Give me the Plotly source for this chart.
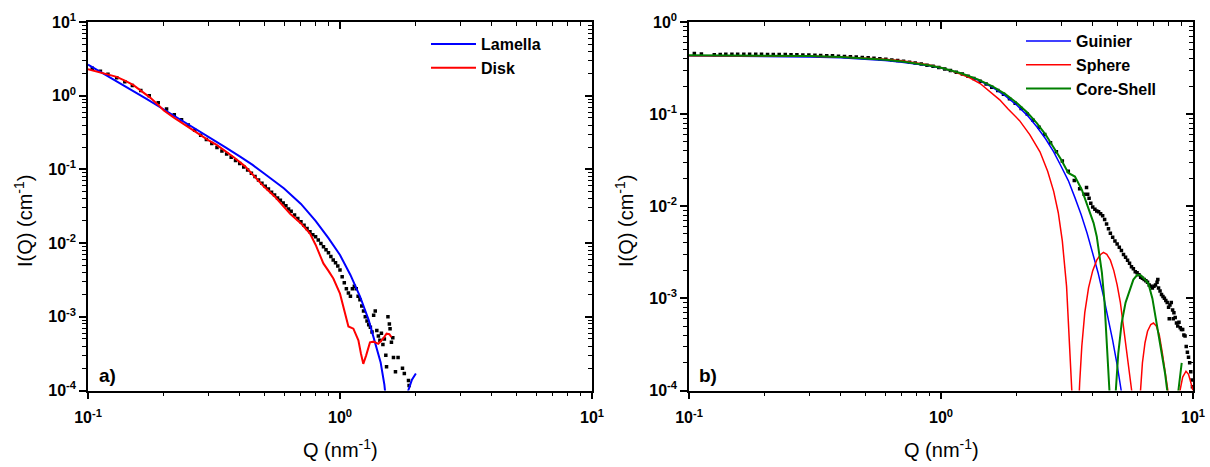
import plotly.graph_objects as go

# ---------------- Panel a) data ----------------
qa_data = [0.104, 0.112, 0.12, 0.13, 0.14, 0.15, 0.162, 0.175, 0.19, 0.205, 0.22, 0.235, 0.25, 0.265,
           0.28, 0.295, 0.31, 0.325, 0.34, 0.355, 0.37, 0.385, 0.40, 0.415, 0.43, 0.445, 0.46, 0.475,
           0.49, 0.505, 0.52, 0.535, 0.55, 0.565, 0.58, 0.595, 0.61, 0.625, 0.64, 0.66, 0.68, 0.70,
           0.72, 0.74, 0.76, 0.78, 0.80, 0.82, 0.84, 0.86, 0.88, 0.90, 0.92, 0.94, 0.96, 0.98, 1.00,
           1.02, 1.04, 1.06, 1.08, 1.10, 1.12, 1.14, 1.16, 1.18, 1.20, 1.22, 1.24, 1.26, 1.28, 1.30,
           1.32, 1.34, 1.36, 1.38, 1.40, 1.42, 1.44, 1.46, 1.48, 1.50, 1.52, 1.53, 1.55, 1.57, 1.58,
           1.60, 1.62, 1.63, 1.66, 1.70, 1.77, 1.80, 1.87, 1.88]
ia_data = [2.35, 2.15, 1.95, 1.75, 1.55, 1.38, 1.18, 1.0, 0.8, 0.66, 0.55, 0.47, 0.40, 0.34,
           0.29, 0.255, 0.225, 0.198, 0.178, 0.162, 0.146, 0.132, 0.12, 0.108, 0.098, 0.089, 0.080, 0.072,
           0.065, 0.059, 0.054, 0.049, 0.045, 0.041, 0.038, 0.035, 0.032, 0.029, 0.027, 0.024, 0.0215, 0.0195,
           0.0175, 0.0158, 0.0143, 0.013, 0.0122, 0.011, 0.0099, 0.0089, 0.0081, 0.0074, 0.0066, 0.0059, 0.0054, 0.0049, 0.0043,
           0.0035, 0.0029, 0.0024, 0.0021, 0.0019, 0.0024, 0.0026, 0.0024, 0.0019, 0.0017, 0.0014, 0.0012, 0.0010, 0.00088, 0.00078,
           0.00072, 0.00062, 0.00105, 0.0012, 0.00065, 0.00055, 0.00048, 0.0006, 0.00042, 0.0005, 0.0003, 0.00021, 0.001, 0.0008, 0.00069,
           0.00045, 0.00052, 0.00028, 0.00018, 0.00028, 0.0002, 0.00017, 0.000137, 0.000117]

qa_lamella = [0.1, 0.12, 0.14, 0.17, 0.2, 0.25, 0.3, 0.35, 0.4, 0.45, 0.5, 0.6, 0.7, 0.8, 0.9, 1.0,
              1.1, 1.2, 1.3, 1.4, 1.45, 1.5, 1.55, 1.6, 1.65, 1.68, 1.72, 1.8, 1.866, 1.93, 2.0]
ia_lamella = [2.65, 1.85, 1.35, 0.91, 0.65, 0.41, 0.28, 0.2, 0.15, 0.115, 0.088, 0.055, 0.034, 0.02, 0.0117, 0.0069,
              0.0037, 0.0019, 0.0009, 0.00038, 0.00024, 0.00012, 0.00005, 0.000015, 0.000002, 1e-8, 0.000003, 0.00003, 0.0001, 0.00014, 0.00017]

qa_disk = [0.1, 0.11, 0.12, 0.13, 0.14, 0.151, 0.165, 0.176, 0.19, 0.2, 0.22, 0.24, 0.26, 0.28, 0.3, 0.324,
           0.35, 0.38, 0.42, 0.46, 0.5, 0.55, 0.6, 0.634, 0.7, 0.76, 0.8, 0.859, 0.9, 0.941, 1.0, 1.047,
           1.08, 1.13, 1.183, 1.21, 1.237, 1.27, 1.315, 1.36, 1.419, 1.48, 1.53, 1.57, 1.6]
ia_disk = [2.28, 2.1, 1.95, 1.8, 1.6, 1.4, 1.12, 0.95, 0.75, 0.63, 0.5, 0.41, 0.34, 0.285, 0.25, 0.215,
           0.18, 0.145, 0.11, 0.078, 0.058, 0.043, 0.031, 0.025, 0.0185, 0.0135, 0.0095, 0.0053, 0.0042, 0.0033, 0.00206, 0.0011,
           0.00074, 0.00069, 0.00048, 0.00032, 0.00023, 0.0003, 0.00045, 0.00046, 0.00043, 0.0005, 0.00059, 0.00058, 0.00053]

# ---------------- Panel b) data ----------------
qb_data = [0.105, 0.112, 0.126, 0.133, 0.14, 0.148, 0.156, 0.165, 0.174, 0.184, 0.194, 0.205, 0.216, 0.228,
           0.241, 0.254, 0.268, 0.283, 0.299, 0.316, 0.333, 0.352, 0.371, 0.392, 0.414, 0.437, 0.461, 0.487,
           0.514, 0.542, 0.572, 0.604, 0.638, 0.673, 0.71, 0.75, 0.79, 0.835, 0.88, 0.93, 0.98, 1.035, 1.09,
           1.15, 1.215, 1.28, 1.35, 1.43, 1.51, 1.59, 1.68, 1.77, 1.87, 1.97, 2.08, 2.2, 2.32, 2.45, 2.58,
           2.72, 2.87, 3.03, 3.2, 3.38, 3.55, 3.7, 3.78, 3.82, 3.87, 3.93, 4.0, 4.08, 4.15, 4.22, 4.3, 4.38,
           4.46, 4.54, 4.62, 4.7, 4.8, 4.9, 5.0, 5.1, 5.2, 5.3, 5.4, 5.5, 5.6, 5.7, 5.8, 5.9, 6.0, 6.1, 6.2,
           6.3, 6.4, 6.5, 6.6, 6.7, 6.8, 6.9, 7.0, 7.1, 7.2, 7.25, 7.3, 7.4, 7.5, 7.6, 7.7, 7.8, 7.9, 8.0,
           8.05, 8.1, 8.2, 8.3, 8.35, 8.4, 8.5, 8.6, 8.7, 8.8, 8.9, 9.0, 9.1, 9.2, 9.3, 9.4, 9.5, 9.6, 9.7,
           9.8, 9.9, 9.95]
ib_data = [0.455, 0.45, 0.44, 0.445, 0.447, 0.446, 0.447, 0.447, 0.446, 0.446, 0.447, 0.445, 0.445, 0.444,
           0.443, 0.441, 0.44, 0.439, 0.437, 0.435, 0.433, 0.431, 0.429, 0.426, 0.423, 0.42, 0.416, 0.412,
           0.408, 0.404, 0.399, 0.394, 0.388, 0.381, 0.374, 0.366, 0.358, 0.349, 0.34, 0.33, 0.32, 0.309, 0.297,
           0.285, 0.272, 0.258, 0.244, 0.228, 0.212, 0.196, 0.18, 0.164, 0.147, 0.131, 0.115, 0.1, 0.086, 0.072, 0.06,
           0.049, 0.039, 0.031, 0.024, 0.019, 0.0155, 0.0135, 0.016, 0.0135, 0.0122, 0.0108, 0.0098, 0.0093, 0.0089, 0.0087, 0.0083, 0.0079,
           0.0072, 0.0064, 0.0057, 0.0051, 0.0046, 0.0042, 0.0039, 0.0036, 0.0033, 0.0030, 0.0028, 0.0026, 0.0024, 0.0022, 0.0021, 0.00195, 0.0019, 0.0018, 0.0017,
           0.00165, 0.0016, 0.00155, 0.0015, 0.0014, 0.00135, 0.0013, 0.00135, 0.0014, 0.0015, 0.0016, 0.0013, 0.0012, 0.0011, 0.00105, 0.001, 0.00095, 0.0009, 0.0008,
           0.0006, 0.00085, 0.0009, 0.00075, 0.0006, 0.0007, 0.00062, 0.00054, 0.0005, 0.00055, 0.00048, 0.00046, 0.00046, 0.0004, 0.00039, 0.0003, 0.00026, 0.00023, 0.0002,
           0.00016, 0.00013, 0.00011]

qb_guinier = [0.1, 0.2, 0.3, 0.4, 0.5, 0.6, 0.7, 0.8, 0.9, 1.0, 1.2, 1.4, 1.6, 1.8, 2.0, 2.2, 2.4, 2.6,
              2.8, 3.0, 3.2, 3.4, 3.6, 3.8, 4.0, 4.2, 4.4, 4.6, 4.8, 5.0, 5.2, 5.4]
ib_guinier = [0.43, 0.425, 0.418, 0.41, 0.398, 0.383, 0.366, 0.352, 0.335, 0.316, 0.275, 0.235, 0.195, 0.158, 0.125, 0.097, 0.073, 0.054,
              0.039, 0.027, 0.019, 0.0124, 0.0081, 0.0051, 0.0031, 0.0019, 0.0011, 0.00063, 0.00035, 0.00019, 0.0001, 0.00005]

qb_sphere = [0.1, 0.2, 0.3, 0.4, 0.5, 0.6, 0.7, 0.8, 0.9, 1.0, 1.1, 1.2, 1.3, 1.43, 1.55, 1.71, 1.85, 2.05,
             2.25, 2.47, 2.65, 2.8, 2.92, 3.03, 3.15, 3.23, 3.3, 3.36, 3.43, 3.5, 3.55, 3.62, 3.72, 3.85,
             4.0, 4.15, 4.3, 4.41, 4.55, 4.7, 4.85, 5.0, 5.15, 5.3, 5.45, 5.6, 5.71, 5.8, 5.93, 6.05, 6.17,
             6.3, 6.45, 6.6, 6.8, 6.97, 7.15, 7.35, 7.55, 7.75, 7.95, 8.15, 8.4, 8.65, 8.88, 9.1, 9.38, 9.6, 9.8, 10.0]
ib_sphere = [0.43, 0.43, 0.425, 0.418, 0.408, 0.395, 0.38, 0.362, 0.342, 0.318, 0.295, 0.27, 0.248, 0.215, 0.18, 0.143, 0.113, 0.085,
             0.06, 0.039, 0.024, 0.0145, 0.0085, 0.0042, 0.00135, 0.0004, 0.00015, 0.00004, 1e-7, 0.00005, 0.00012, 0.0003, 0.0007, 0.0013,
             0.002, 0.0026, 0.003, 0.00316, 0.003, 0.0026, 0.002, 0.0014, 0.0009, 0.0005, 0.00028, 0.00015, 0.0001, 0.00004, 1e-7, 0.00004, 0.0001,
             0.0002, 0.00033, 0.00044, 0.00052, 0.00054, 0.0005, 0.0004, 0.00026, 0.00016, 0.0001, 0.00004, 1e-7, 0.00004, 0.0001, 0.00014, 0.000162, 0.00015, 0.00012, 0.0001]

qb_coreshell = [0.1, 0.2, 0.3, 0.4, 0.5, 0.6, 0.7, 0.8, 0.9, 1.0, 1.2, 1.4, 1.6, 1.8, 2.0, 2.2, 2.4, 2.6,
                2.8, 3.0, 3.2, 3.4, 3.62, 3.8, 4.03, 4.15, 4.35, 4.45, 4.55, 4.66, 4.72, 4.78, 4.85, 4.94,
                5.05, 5.21, 5.4, 5.62, 5.8, 6.01, 6.2, 6.45, 6.65, 6.9, 7.18, 7.45, 7.74, 7.9, 8.05, 8.3,
                8.55, 8.75, 8.9, 9.02]
ib_coreshell = [0.435, 0.433, 0.427, 0.418, 0.405, 0.39, 0.372, 0.355, 0.337, 0.318, 0.278, 0.238, 0.2, 0.165, 0.132, 0.104, 0.08, 0.06,
                0.044, 0.032, 0.023, 0.021, 0.0151, 0.0105, 0.0066, 0.0047, 0.0019, 0.00095, 0.00036, 0.0001, 0.00002, 1e-7, 0.00003, 0.0001,
                0.00025, 0.00054, 0.0009, 0.00124, 0.0016, 0.0018, 0.00178, 0.0016, 0.00145, 0.001, 0.00054, 0.00029, 0.000156, 0.0001, 0.00005, 1e-7,
                0.00005, 0.0001, 0.00015, 0.0002]

# tick labels
x_tickvals = [0.1, 1, 10]
x_ticktext = ["<b>10<sup>-1</sup></b>", "<b>10<sup>0</sup></b>", "<b>10<sup>1</sup></b>"]
ya_tickvals = [1e-4, 1e-3, 1e-2, 1e-1, 1, 10]
ya_ticktext = ["<b>10<sup>-4</sup></b>", "<b>10<sup>-3</sup></b>", "<b>10<sup>-2</sup></b>",
               "<b>10<sup>-1</sup></b>", "<b>10<sup>0</sup></b>", "<b>10<sup>1</sup></b>"]
yb_tickvals = [1e-4, 1e-3, 1e-2, 1e-1, 1]
yb_ticktext = ["<b>10<sup>-4</sup></b>", "<b>10<sup>-3</sup></b>", "<b>10<sup>-2</sup></b>",
               "<b>10<sup>-1</sup></b>", "<b>10<sup>0</sup></b>"]

# page body margin is removed by a small post script, so the figure fills the window
OFF = 0
W, H = 1210, 467
FONT = "Arial, Liberation Sans, sans-serif"


def fx(p):
    return (p - OFF) / W


def fy(p):
    return 1 - (p - OFF) / H


def minor_vals(lo, hi):
    out = []
    for e in range(lo, hi):
        for m in range(2, 10):
            out.append(m * 10 ** e)
    return out


fig = go.Figure()

# panel a
fig.add_trace(go.Scatter(x=qa_data, y=ia_data, mode="markers", xaxis="x", yaxis="y",
                         marker=dict(symbol="square", size=3.5, color="black"), showlegend=False))
fig.add_trace(go.Scatter(x=qa_lamella, y=ia_lamella, mode="lines", name="Lamella", xaxis="x", yaxis="y",
                         line=dict(color="#0000ff", width=2), legend="legend", legendgroup="a1"))
fig.add_trace(go.Scatter(x=qa_disk, y=ia_disk, mode="lines", name="Disk", xaxis="x", yaxis="y",
                         line=dict(color="#ff0000", width=2), legend="legend", legendgroup="a2"))

# panel b
fig.add_trace(go.Scatter(x=qb_data, y=ib_data, mode="markers", xaxis="x2", yaxis="y2",
                         marker=dict(symbol="square", size=3.5, color="black"), showlegend=False))
fig.add_trace(go.Scatter(x=qb_guinier, y=ib_guinier, mode="lines", name="Guinier", xaxis="x2", yaxis="y2",
                         line=dict(color="#0000ff", width=1.5), legend="legend2", legendgroup="b1"))
fig.add_trace(go.Scatter(x=qb_sphere, y=ib_sphere, mode="lines", name="Sphere", xaxis="x2", yaxis="y2",
                         line=dict(color="#ff0000", width=1.5), legend="legend2", legendgroup="b2"))
fig.add_trace(go.Scatter(x=qb_coreshell, y=ib_coreshell, mode="lines", name="Core-Shell", xaxis="x2", yaxis="y2",
                         line=dict(color="#008000", width=2), legend="legend2", legendgroup="b3"))

# invisible traces to activate the mirrored (inside-tick) axes
for xa, ya in [("x3", "y"), ("x", "y3"), ("x4", "y2"), ("x2", "y4")]:
    fig.add_trace(go.Scatter(x=[1], y=[0.01], xaxis=xa, yaxis=ya, mode="markers",
                             marker=dict(opacity=0), showlegend=False, hoverinfo="skip"))

dom_a = [fx(88), fx(592)]
dom_b = [fx(689), fx(1193)]
dom_y = [fy(390.5), fy(22)]

tickfont = dict(family=FONT, size=16, color="black")


def axis_common(tickvals, ticktext, rng, ticks, show_labels, minor_list, standoff=0):
    return dict(type="log", range=rng, tickmode="array", tickvals=tickvals, ticktext=ticktext,
                ticks=ticks, ticklen=7, tickwidth=1.5, tickcolor="black", showticklabels=show_labels,
                showline=True, linecolor="black", linewidth=1.5, showgrid=False, zeroline=False,
                tickfont=tickfont, automargin=False, ticklabelstandoff=standoff,
                ticklabeloverflow="allow",
                minor=dict(tickmode="array", tickvals=minor_list, ticks=ticks, ticklen=4,
                           tickwidth=1.2, tickcolor="black", showgrid=False))


mx = minor_vals(-1, 1)
mya = minor_vals(-4, 1)
myb = minor_vals(-4, 0)

fig.update_layout(
    width=W, height=H, margin=dict(l=0, r=0, t=0, b=0, autoexpand=False),
    paper_bgcolor="white", plot_bgcolor="white",
    font=dict(family=FONT, color="black"),
    xaxis=dict(domain=dom_a, anchor="y", **axis_common(x_tickvals, x_ticktext, [-1, 1], "outside", True, mx, 5)),
    yaxis=dict(domain=dom_y, anchor="x", **axis_common(ya_tickvals, ya_ticktext, [-4, 1], "outside", True, mya)),
    xaxis2=dict(domain=dom_b, anchor="y2", **axis_common(x_tickvals, x_ticktext, [-1, 1], "outside", True, mx, 5)),
    yaxis2=dict(domain=dom_y, anchor="x2", **axis_common(yb_tickvals, yb_ticktext, [-4, 0], "outside", True, myb)),
    xaxis3=dict(overlaying="x", side="top", anchor="y", **axis_common(x_tickvals, x_ticktext, [-1, 1], "inside", False, mx)),
    yaxis3=dict(overlaying="y", side="right", anchor="x", **axis_common(ya_tickvals, ya_ticktext, [-4, 1], "inside", False, mya)),
    xaxis4=dict(overlaying="x2", side="top", anchor="y2", **axis_common(x_tickvals, x_ticktext, [-1, 1], "inside", False, mx)),
    yaxis4=dict(overlaying="y2", side="right", anchor="x2", **axis_common(yb_tickvals, yb_ticktext, [-4, 0], "inside", False, myb)),
    legend=dict(x=fx(426), y=fy(27), xanchor="left", yanchor="top", bgcolor="rgba(0,0,0,0)",
                font=dict(family=FONT, size=16, color="black", weight="bold"), tracegroupgap=0,
                itemwidth=45),
    legend2=dict(x=fx(1021), y=fy(24), xanchor="left", yanchor="top", bgcolor="rgba(0,0,0,0)",
                 font=dict(family=FONT, size=16, color="black", weight="bold"), tracegroupgap=0,
                 itemwidth=45),
)

annots = [
    dict(text="I(Q) (cm<sup>-1</sup>)", x=fx(23), y=fy(221), textangle=-90),
    dict(text="I(Q) (cm<sup>-1</sup>)", x=fx(624), y=fy(221), textangle=-90),
    dict(text="Q (nm<sup>-1</sup>)", x=fx(340), y=fy(448), textangle=0),
    dict(text="Q (nm<sup>-1</sup>)", x=fx(941), y=fy(448), textangle=0),
]
for a in annots:
    fig.add_annotation(xref="paper", yref="paper", x=a["x"], y=a["y"], text=a["text"], textangle=a["textangle"],
                       showarrow=False, xanchor="center", yanchor="middle",
                       font=dict(family=FONT, size=20, color="black"))

for lbl, xp in [("a)", 97), ("b)", 697)]:
    fig.add_annotation(xref="paper", yref="paper", x=fx(xp), y=fy(375), text="<b>" + lbl + "</b>",
                       showarrow=False, xanchor="left", yanchor="middle",
                       font=dict(family=FONT, size=19, color="black"))

fig.write_html("out.html", config={"displayModeBar": False},
               post_script="document.body.style.margin='0px';document.body.style.overflow='hidden';")
